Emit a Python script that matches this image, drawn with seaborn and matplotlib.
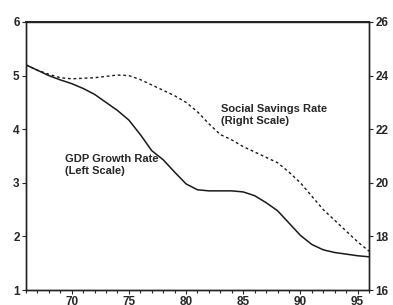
import numpy as np
import pandas as pd
import matplotlib
matplotlib.use("Agg")
import matplotlib.pyplot as plt
import seaborn as sns

# years 1966-1996, shown as two-digit years
years = list(range(66, 97))
gdp_growth = [5.2, 5.1, 5.0, 4.92, 4.85, 4.76, 4.65, 4.5, 4.35, 4.17,
              3.9, 3.6, 3.43, 3.2, 2.98, 2.87, 2.85, 2.85, 2.85, 2.83,
              2.76, 2.63, 2.48, 2.25, 2.02, 1.85, 1.75, 1.7, 1.67, 1.64, 1.62]
savings_rate = [24.4, 24.2, 24.05, 23.92, 23.88, 23.9, 23.92, 23.97, 24.02, 24.0,
                23.85, 23.65, 23.45, 23.25, 23.0, 22.65, 22.2, 21.8, 21.6, 21.35,
                21.15, 20.95, 20.75, 20.4, 20.0, 19.5, 19.0, 18.6, 18.2, 17.8, 17.45]
left_ticks = [1, 2, 3, 4, 5, 6]
right_ticks = [16, 18, 20, 22, 24, 26]
x_ticks = [70, 75, 80, 85, 90, 95]

df = pd.DataFrame({"year": years, "gdp": gdp_growth, "sav": savings_rate})

sns.set_style("ticks")
plt.rcParams['font.family'] = ['Liberation Sans', 'DejaVu Sans']

fig = plt.figure(figsize=(3.93, 3.05), dpi=100)
ax = fig.add_axes([0.066, 0.049, 0.873, 0.879])
ax2 = ax.twinx()

sns.lineplot(data=df, x="year", y="gdp", ax=ax, color="#1a1a1a", linewidth=1.1)
sns.lineplot(data=df, x="year", y="sav", ax=ax2, color="#1a1a1a", linewidth=1.0,
             linestyle=(0, (2, 2)))

ax.set_xlim(66, 96)
ax.set_ylim(1, 6)
ax2.set_ylim(16, 26)
ax.set_xticks(x_ticks)
ax.set_xticks(years, minor=True)
ax.set_yticks(left_ticks)
ax2.set_yticks(right_ticks)
ax.set_xticklabels([str(t) for t in x_ticks], fontsize=8.5, fontweight="bold")
ax.set_yticklabels([str(t) for t in left_ticks], fontsize=8.5, fontweight="bold")
ax2.set_yticklabels([str(t) for t in right_ticks], fontsize=8.5, fontweight="bold")
ax.set_xlabel("")
ax.set_ylabel("")
ax2.set_ylabel("")

for a in (ax, ax2):
    for s in a.spines.values():
        s.set_visible(True)
        s.set_color("#222222")
        s.set_linewidth(1.0)
ax.spines["top"].set_linewidth(1.4)
ax.tick_params(axis="both", which="major", length=3, width=0.8, pad=1.5)
ax.tick_params(axis="x", which="minor", length=2.5, width=0.8)
ax2.tick_params(axis="y", length=3, width=0.8, pad=1.5)

ax.text(69.4, 3.33, "GDP Growth Rate\n(Left Scale)", fontsize=8,
        fontweight="bold", va="center", ha="left", linespacing=1.2)
ax2.text(83.1, 22.52, "Social Savings Rate\n(Right Scale)", fontsize=8,
         fontweight="bold", va="center", ha="left", linespacing=1.2)

fig.savefig("out.png", dpi=100)
